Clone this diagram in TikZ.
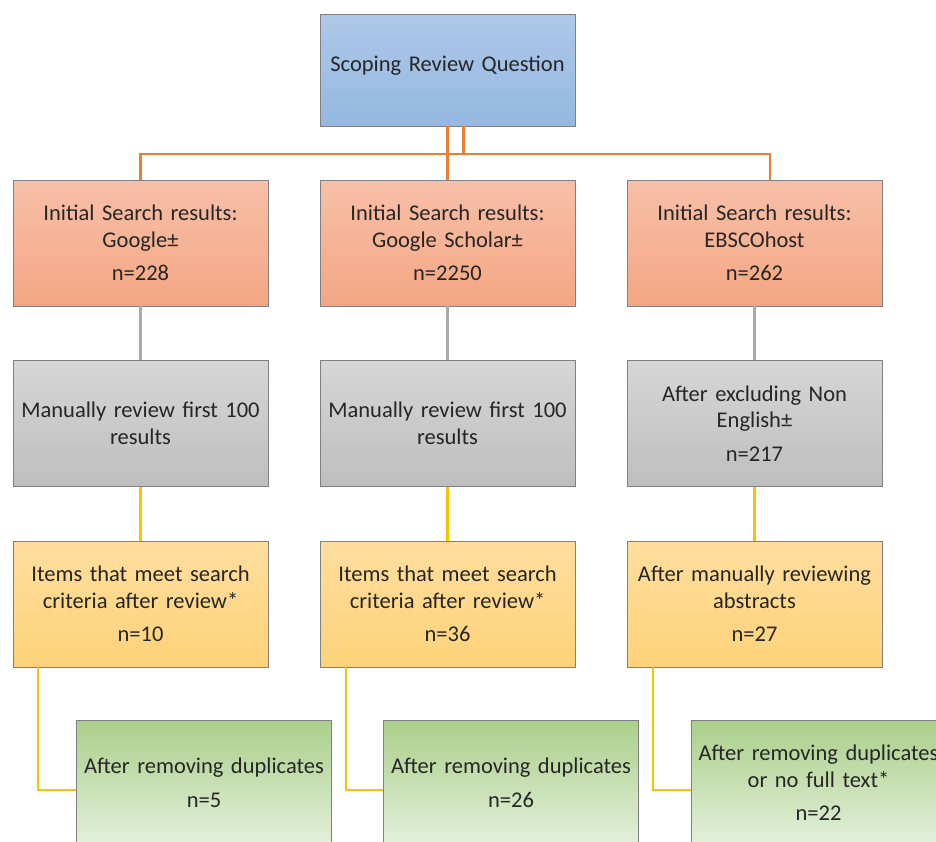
\documentclass[tikz,border=0pt]{standalone}
\usepackage{fontspec}
\setmainfont{Carlito}
\usetikzlibrary{calc}
\definecolor{boxedge}{RGB}{128,128,128}
\definecolor{textdark}{RGB}{38,38,38}
\definecolor{blueT}{RGB}{174,200,232}
\definecolor{blueB}{RGB}{148,184,225}
\definecolor{salmonT}{RGB}{247,192,168}
\definecolor{salmonB}{RGB}{244,166,130}
\definecolor{grayT}{RGB}{214,214,214}
\definecolor{grayB}{RGB}{190,190,190}
\definecolor{yellowT}{RGB}{255,222,158}
\definecolor{yellowB}{RGB}{254,210,122}
\definecolor{greenT}{RGB}{170,207,138}
\definecolor{greenB}{RGB}{228,240,220}
\definecolor{orangeline}{RGB}{237,125,49}
\definecolor{grayline}{RGB}{170,170,170}
\definecolor{yellowline}{RGB}{255,192,0}
\tikzset{
	box/.style={
			draw=boxedge, line width=0.8pt,
			minimum width=255pt, minimum height=126pt,
			inner sep=0pt, text width=250pt, align=center,
			font=\fontsize{22.5}{26.5}\selectfont, text=textdark
		},
	qbox/.style={box, minimum height=112pt, top color=blueT, bottom color=blueB},
	searchbox/.style={box, top color=salmonT, bottom color=salmonB},
	reviewbox/.style={box, top color=grayT, bottom color=grayB},
	itemsbox/.style={box, top color=yellowT, bottom color=yellowB},
	dupbox/.style={box, top color=greenT, bottom color=greenB},
	link/.style={line width=2.2pt}
}

\begin{document}
\begin{tikzpicture}[x=1pt,y=-1pt]
        \useasboundingbox (0,0) rectangle (936,841);
        \clip (0,0) rectangle (936,841);
        \node[qbox] (q) at (447.5, 70) {\raisebox{12pt}{Scoping Review Question}};
        \node[searchbox] (search_G) at (140.5, 243) {Initial Search results:\\ Google±\\[7pt] n=228};
        \node[searchbox] (search_GS) at (447.5, 243) {Initial Search results:\\ Google Scholar±\\[7pt] n=2250};
        \node[searchbox] (search_EB) at (754.5, 243) {Initial Search results:\\ EBSCOhost\\[7pt] n=262};
        \node[reviewbox] (review_G) at (140.5, 423.5) {Manually review first 100\\ results};
        \node[reviewbox] (review_GS) at (447.5, 423.5) {Manually review first 100\\ results};
        \node[reviewbox] (review_EB) at (754.5, 423.5) {After excluding Non\\ English±\\[7pt] n=217};
        \node[itemsbox] (items_G) at (140.5, 604) {Items that meet search\\ criteria after review*\\[7pt] n=10};
        \node[itemsbox] (items_GS) at (447.5, 604) {Items that meet search\\ criteria after review*\\[7pt] n=36};
        \node[itemsbox] (items_EB) at (754.5, 604) {After manually reviewing\\ abstracts\\[7pt] n=27};
        \node[dupbox] (dup_G) at (204, 783) {After removing duplicates\\[7pt] n=5};
        \node[dupbox] (dup_GS) at (511, 783) {After removing duplicates\\[7pt] n=26};
        \node[dupbox] (dup_EB) at (818.5, 783) {After removing duplicates\\ or no full text*\\[7pt] n=22};
        \coordinate (bus_R) at (770, 154);
        \draw[link, orangeline] (q.south) -- (search_GS.north);
        \draw[link, orangeline] ([xshift=16pt]q.south) -- ([xshift=16pt]q.south |- bus_R);
        \draw[link, orangeline] (search_G.north) |- (bus_R) -- (bus_R |- search_EB.north);
        \draw[link, grayline] (search_G) -- (review_G);
        \draw[link, grayline] (search_GS) -- (review_GS);
        \draw[link, grayline] (search_EB) -- (review_EB);
        \draw[link, yellowline] (review_G) -- (items_G);
        \draw[link, yellowline] (review_GS) -- (items_GS);
        \draw[link, yellowline] (review_EB) -- (items_EB);
        \draw[link, yellowline] ([xshift=25pt]items_G.south west) |- ([yshift=-7pt]dup_G.west);
        \draw[link, yellowline] ([xshift=26pt]items_GS.south west) |- ([yshift=-7pt]dup_GS.west);
        \draw[link, yellowline] ([xshift=26pt]items_EB.south west) |- ([yshift=-7pt]dup_EB.west);
\end{tikzpicture}
\end{document}
